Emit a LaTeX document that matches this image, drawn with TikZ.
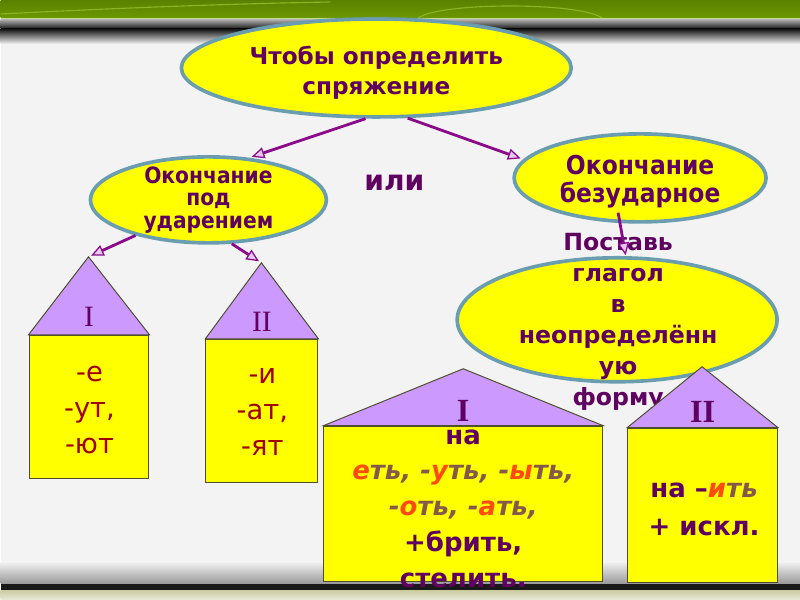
\documentclass[tikz,border=0pt]{standalone}
\usepackage{fontspec}
\setmainfont{DejaVu Sans}
\newfontfamily\spnarrow[FakeStretch=0.9]{DejaVu Sans}
\newfontfamily\spserif{Liberation Serif}
\usepackage{tikz}
\usetikzlibrary{positioning,arrows.meta,shapes.geometric,calc}
\definecolor{spYellow}{HTML}{FFFF00}
\definecolor{spRing}{HTML}{6A9DAF}
\definecolor{spPurple}{HTML}{600060}
\definecolor{spArrow}{HTML}{8A0A8A}
\definecolor{spLilac}{HTML}{E6C8F0}
\definecolor{spRoof}{HTML}{CC99FF}
\definecolor{spRed}{HTML}{A00000}
\definecolor{spOrange}{HTML}{FF4A10}
\definecolor{spBrown}{HTML}{85584A}
\definecolor{spEdge}{HTML}{4F4F30}
\definecolor{spGreen}{HTML}{6C9800}
\definecolor{spGreenD}{HTML}{5A8200}
\definecolor{spGreenL}{HTML}{8CB424}
\definecolor{spPaper}{HTML}{F3F3F3}
\newcommand\spV[1]{\textcolor{spOrange}{\itshape #1}}
\newcommand\spT[1]{\textcolor{spBrown}{\itshape #1}}
\tikzset{
  sp-oval/.style={ellipse, draw=spRing, line width=2.6pt, fill=spYellow,
    inner sep=0pt},
  sp-text/.style={text=spPurple, font=\bfseries, align=center, inner sep=0pt},
  sp-box/.style={draw=spEdge, line width=0.7pt, fill=spYellow,
    anchor=north west, inner sep=0pt},
  sp-roof/.style={draw=spEdge, line width=0.7pt, fill=spRoof},
  sp-num/.style={text=spPurple, font=\spserif, inner sep=0pt},
  sp-end/.style={text=spRed, align=center, inner sep=0pt,
    font=\fontsize{19.5}{25.5}\selectfont},
  sp-flow/.style={-{Triangle[length=9pt, width=8pt, line width=0.9pt,
      fill=spLilac]}, line width=2pt, draw=spArrow, shorten >=2pt}
}
\begin{document}
\begin{tikzpicture}[x=0.025cm, y=-0.025cm]
% slide background
\fill[spPaper] (0,0) rectangle (800,600);
\shade[top color=spGreenD, bottom color=spGreen] (0,0) rectangle (800,18);
\draw[spGreenL, line width=0.8pt] (0,14) .. controls (120,8) and (220,4) .. (330,2);
\draw[spGreenL, line width=0.8pt] (418,18) .. controls (440,2) and (580,2) .. (602,18);
\fill[spGreenL!50!white] (0,18) rectangle (800,20);
\shade[top color=gray!70, bottom color=black!92] (0,20) rectangle (800,29);
\shade[top color=black!92, bottom color=spPaper] (0,29) rectangle (800,44);
\shade[top color=spPaper, bottom color=gray!80] (0,562) rectangle (800,584);
\fill[black!90] (0,584) rectangle (800,591);
\shade[top color=gray!60!olive!40, bottom color=spPaper!90!olive] (0,591) rectangle (800,600);

% ovals
\node[sp-oval, minimum width=9.75cm, minimum height=2.45cm] (top) at (376,68) {};
\node[sp-text, font=\bfseries\fontsize{16.5}{21.5}\selectfont] (topT) at (376,73)
  {Чтобы определить\\спряжение};
\node[sp-oval, minimum width=5.9cm, minimum height=2.15cm] (left) at (208,200) {};
\node[sp-text, font=\spnarrow\bfseries\fontsize{16}{16}\selectfont] (leftT) at (208,200)
  {Окончание\\под\\ударением};
\node[sp-oval, minimum width=6.3cm, minimum height=2.2cm] (right) at (640,178) {};
\node[sp-text, font=\spnarrow\bfseries\fontsize{18.5}{20}\selectfont] (rightT) at (640,182)
  {Окончание\\безударное};
\node[sp-text, font=\bfseries\fontsize{20}{22}\selectfont] (or) at (394,183) {или};
\node[sp-oval, minimum width=8.0cm, minimum height=3.1cm] (low) at (617,320) {};
\node[sp-text, font=\bfseries\fontsize{16.8}{22}\selectfont] (lowT) at (618,322)
  {Поставь\\глагол\\в\\неопределённ\\ую\\форму};

% houses
\node[sp-box, minimum width=3cm, minimum height=3.575cm] (b1) at (28,335) {};
\coordinate (r1) at (88,257);
\draw[sp-roof] (b1.north west) -- (r1) -- (b1.north east) -- cycle;
\node[sp-num, font=\spserif\fontsize{21}{21}\selectfont, above=0.2cm of b1.north] (n1) {I};
\node[sp-end] (e1) at (89,410) {-е\\-ут,\\-ют};

\node[sp-box, minimum width=2.8cm, minimum height=3.575cm] (b2) at (205,339) {};
\coordinate (r2) at (261,263);
\draw[sp-roof] (b2.north west) -- (r2) -- (b2.north east) -- cycle;
\node[sp-num, font=\spserif\fontsize{21}{21}\selectfont, above=0.175cm of b2.north] (n2) {II};
\node[sp-end] (e2) at (262,412) {-и\\-ат,\\-ят};

\node[sp-box, minimum width=6.975cm, minimum height=3.875cm] (b3) at (323,426) {};
\coordinate (r3) at (463,369);
\draw[sp-roof] (b3.north west) -- (r3) -- (b3.north east) -- cycle;
\node[sp-num, font=\spserif\bfseries\fontsize{23}{23}\selectfont, above=0.11cm of b3.north] (n3) {I};
\node[sp-text, font=\bfseries\fontsize{18.5}{25.5}\selectfont] (e3) at (463,509)
  {на\\\spV{е}\spT{ть, -}\spV{у}\spT{ть, -}\spV{ы}\spT{ть,}\\
   \spT{-}\spV{о}\spT{ть, -}\spV{а}\spT{ть,}\\+брить,\\стелить.};

\node[sp-box, minimum width=3.75cm, minimum height=3.85cm] (b4) at (627,428) {};
\coordinate (r4) at (702,367);
\draw[sp-roof] (b4.north west) -- (r4) -- (b4.north east) -- cycle;
\node[sp-num, font=\spserif\bfseries\fontsize{23}{23}\selectfont, above=0.125cm of b4.north] (n4) {II};
\node[sp-text, font=\bfseries\fontsize{18.5}{27}\selectfont] (e4) at (704,510)
  {на –\spV{и}\spT{ть}\\+ искл.};

% arrows
\draw[sp-flow] (top.258) -- (left.46);
\draw[sp-flow] (top.302) -- (right.171);
\draw[sp-flow] (left.206) -- (r1);
\draw[sp-flow] (left.298) -- (r2);
\draw[sp-flow] ($(right.south)+(-22,-11)$) -- ($(low.north)+(9,2)$);
\end{tikzpicture}
\end{document}
